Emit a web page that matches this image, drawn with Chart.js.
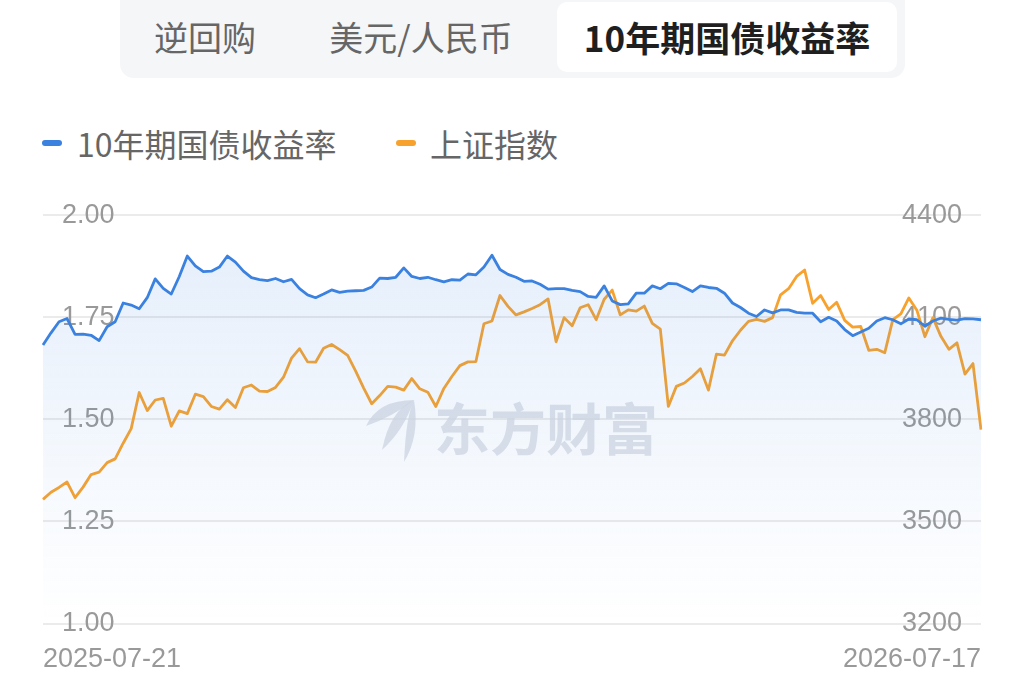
<!DOCTYPE html>
<html>
<head>
<meta charset="utf-8">
<script src="https://cdn.jsdelivr.net/npm/chart.js@4.4.1/dist/chart.umd.min.js"></script>
<style>
body { margin: 0; width: 1024px; height: 684px; background: #fff; overflow: hidden; position: relative;
       font-family: "Liberation Sans", "Noto Sans CJK SC", sans-serif; }
.tabs { position: absolute; left: 120px; top: -14px; width: 785px; height: 92px; background: #f5f6f8; border-radius: 14px; }
.tab { position: absolute; top: 16px; height: 70px; line-height: 70px; font-size: 34px; color: #666; text-align: center;
       font-family: "Noto Sans CJK SC", sans-serif; }
.tab.on { background: #fff; border-radius: 10px; color: #1f1f1f; font-weight: bold; font-size: 35px; }
.legend { position: absolute; top: 122px; left: 0; height: 42px; }
.item { position: absolute; top: 0; height: 42px; line-height: 42px; font-size: 32px; color: #666; white-space: nowrap;
        font-family: "Noto Sans CJK SC", sans-serif; }
.dash { position: absolute; top: 18px; width: 20px; height: 6px; border-radius: 3px; }
#chart { position: absolute; left: 0; top: 180px; }
</style>
</head>
<body>
<div class="tabs">
  <div class="tab" style="left:20px;width:130px;">逆回购</div>
  <div class="tab" style="left:195px;width:212px;">美元/人民币</div>
  <div class="tab on" style="left:437px;width:340px;">10年期国债收益率</div>
</div>
<div class="legend">
  <div class="dash" id="dash0" style="left:42px;"></div>
  <div class="item" id="name0" style="left:77px;"></div>
  <div class="dash" id="dash1" style="left:396px;"></div>
  <div class="item" id="name1" style="left:430px;"></div>
</div>
<canvas id="chart" width="1024" height="518"></canvas>
<script>
var seriesNames = ["10年期国债收益率", "上证指数"];
var seriesColors = ["#3b82e0", "#f7a22e"];
var startDate = "2025-07-21";
var endDate = "2026-07-17";

// 10年期国债收益率 (%)
var bondYield = [
    1.682, 1.712, 1.739, 1.747, 1.708, 1.709, 1.706, 1.693, 1.727, 1.739,
    1.785, 1.780, 1.771, 1.798, 1.844, 1.821, 1.807, 1.850, 1.900, 1.876,
    1.862, 1.863, 1.873, 1.900, 1.885, 1.863, 1.847, 1.842, 1.840, 1.845,
    1.837, 1.843, 1.820, 1.805, 1.798, 1.807, 1.817, 1.811, 1.814, 1.815,
    1.816, 1.824, 1.846, 1.845, 1.848, 1.871, 1.850, 1.845, 1.848, 1.842,
    1.837, 1.842, 1.841, 1.856, 1.854, 1.873, 1.902, 1.867, 1.855, 1.848,
    1.838, 1.839, 1.831, 1.819, 1.820, 1.820, 1.816, 1.813, 1.801, 1.799,
    1.827, 1.790, 1.781, 1.783, 1.809, 1.809, 1.827, 1.820, 1.833, 1.832,
    1.823, 1.813, 1.827, 1.823, 1.821, 1.809, 1.785, 1.774, 1.760, 1.752,
    1.768, 1.761, 1.768, 1.768, 1.762, 1.760, 1.760, 1.739, 1.750, 1.741,
    1.720, 1.705, 1.714, 1.723, 1.741, 1.749, 1.744, 1.734, 1.746, 1.744,
    1.728, 1.741, 1.748, 1.745, 1.743, 1.747, 1.746, 1.744
];

// 上证指数
var shIndex = [
    3565, 3586, 3600, 3616, 3570, 3601, 3638, 3645, 3673, 3684,
    3730, 3773, 3879, 3826, 3857, 3862, 3780, 3825, 3817, 3874,
    3867, 3838, 3830, 3858, 3835, 3893, 3901, 3883, 3882, 3894,
    3924, 3980, 4008, 3969, 3968, 4009, 4020, 4005, 3988, 3942,
    3892, 3846, 3870, 3897, 3895, 3886, 3920, 3890, 3880, 3838,
    3891, 3926, 3958, 3969, 3970, 4081, 4089, 4164, 4132, 4107,
    4116, 4126, 4137, 4154, 4028, 4099, 4075, 4128, 4137, 4093,
    4153, 4180, 4107, 4122, 4118, 4133, 4082, 4065, 3838, 3897,
    3907, 3926, 3949, 3886, 3992, 3989, 4031, 4062, 4088, 4094,
    4088, 4099, 4166, 4184, 4220, 4239, 4141, 4164, 4123, 4144,
    4091, 4071, 4073, 4003, 4006, 3996, 4093, 4110, 4157, 4121,
    4043, 4099, 4044, 4006, 4025, 3933, 3964, 3770
];

var yieldTicks = [1.00, 1.25, 1.50, 1.75, 2.00];
var indexTicks = [3200, 3500, 3800, 4100, 4400];

// date labels spread between the first and last day shown on the axis
var dates = [];
var t0 = Date.parse(startDate + "T00:00:00Z");
var span = (Date.parse(endDate + "T00:00:00Z") - t0) / 86400000;
for (var i = 0; i < bondYield.length; i++) {
    var d = new Date(t0 + Math.round(i * span / (bondYield.length - 1)) * 86400000);
    dates.push(d.toISOString().slice(0, 10));
}

for (var k = 0; k < 2; k++) {
    document.getElementById("dash" + k).style.background = seriesColors[k];
    document.getElementById("name" + k).textContent = seriesNames[k];
}

// blades of the watermark logo: [end x, end y, outer ctrl x, outer ctrl y, inner ctrl x, inner ctrl y]
var blades = [
    [366, 246, 378, 220, 394, 236],
    [382, 270, 390, 230, 404, 250],
    [404, 282, 406, 236, 420, 256]
];

var watermark = {
    id: "watermark",
    beforeDatasetsDraw: function (chart) {
        var ctx = chart.ctx;
        ctx.save();
        ctx.fillStyle = "rgba(214,218,226,0.75)";
        for (var s = 0; s < blades.length; s++) {
            var b = blades[s];
            ctx.beginPath();
            ctx.moveTo(414, 220);
            ctx.quadraticCurveTo(b[2], b[3], b[0], b[1]);
            ctx.quadraticCurveTo(b[4], b[5], 414, 220);
            ctx.fill();
        }
        ctx.font = "bold 56px 'Noto Sans CJK SC'";
        ctx.textAlign = "left";
        ctx.textBaseline = "middle";
        ctx.fillText("东方财富", 434, 249);
        ctx.restore();
    }
};

function noWidth(axis) {
    axis.width = 0;
}

var ctx = document.getElementById("chart").getContext("2d");
var chart = new Chart(ctx, {
    type: "line",
    data: {
        labels: dates,
        datasets: [
            {
                label: seriesNames[0],
                data: bondYield,
                yAxisID: "y",
                borderColor: seriesColors[0],
                borderWidth: 2.8,
                borderJoinStyle: "round",
                pointRadius: 0,
                tension: 0,
                fill: "start",
                backgroundColor: function (c) {
                    var area = c.chart.chartArea;
                    if (!area) return "rgba(59,130,224,0.08)";
                    var g = c.chart.ctx.createLinearGradient(0, area.top, 0, area.bottom);
                    g.addColorStop(0, "rgba(59,130,224,0.14)");
                    g.addColorStop(0.85, "rgba(59,130,224,0.02)");
                    g.addColorStop(1, "rgba(59,130,224,0)");
                    return g;
                }
            },
            {
                label: seriesNames[1],
                data: shIndex,
                yAxisID: "y1",
                borderColor: seriesColors[1],
                borderWidth: 2.8,
                borderJoinStyle: "round",
                pointRadius: 0,
                tension: 0,
                fill: false
            }
        ]
    },
    options: {
        responsive: false,
        animation: false,
        devicePixelRatio: 1,
        layout: { padding: { left: 43, right: 43, top: 33, bottom: 10 } },
        plugins: {
            legend: { display: false },
            tooltip: { enabled: false }
        },
        scales: {
            x: {
                grid: { display: false },
                border: { display: false },
                afterBuildTicks: function (axis) {
                    axis.ticks = [{ value: 0 }, { value: dates.length - 1 }];
                },
                ticks: {
                    autoSkip: false,
                    maxRotation: 0,
                    align: "inner",
                    padding: 12,
                    color: "#999",
                    font: { size: 27, family: "'Liberation Sans', sans-serif" }
                }
            },
            y: {
                position: "left",
                min: 1,
                max: 2,
                afterBuildTicks: function (axis) {
                    axis.ticks = yieldTicks.map(function (v) { return { value: v }; });
                },
                afterFit: noWidth,
                grid: { color: "#ebebeb", lineWidth: 2, drawTicks: false },
                border: { display: false },
                ticks: {
                    mirror: true,
                    padding: 19,
                    color: "#999",
                    font: { size: 27, family: "'Liberation Sans', sans-serif" },
                    callback: function (v) { return v.toFixed(2); }
                }
            },
            y1: {
                position: "right",
                min: 3200,
                max: 4400,
                afterBuildTicks: function (axis) {
                    axis.ticks = indexTicks.map(function (v) { return { value: v }; });
                },
                afterFit: noWidth,
                grid: { drawOnChartArea: false, drawTicks: false },
                border: { display: false },
                ticks: {
                    mirror: true,
                    padding: -19,
                    color: "#999",
                    font: { size: 27, family: "'Liberation Sans', sans-serif" },
                    callback: function (v) { return String(v); }
                }
            }
        }
    },
    plugins: [watermark]
});
</script>
</body>
</html>
